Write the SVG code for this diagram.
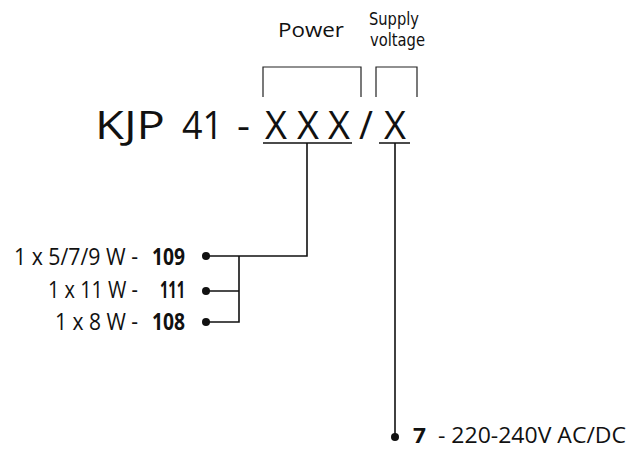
<svg xmlns="http://www.w3.org/2000/svg" width="631" height="451" viewBox="0 0 631 451">
<style>
.t{font-family:"Open Sans","Liberation Sans",sans-serif;fill:#111}
.b{font-family:"Open Sans","Liberation Sans",sans-serif;fill:#111;font-weight:bold}
.c{font-family:"DejaVu Sans Condensed","DejaVu Sans",sans-serif;fill:#111}
.ln{stroke:#111;stroke-width:1.6;fill:none}
.br{stroke:#222;stroke-width:1.2;fill:none}
.dot{fill:#111}
</style>
<rect width="631" height="451" fill="#fff"/>
<g id="header">
<text class="t" x="278" y="37" font-size="20" textLength="66" lengthAdjust="spacingAndGlyphs">Power</text>
<text class="c" x="369" y="25" font-size="17" textLength="50" lengthAdjust="spacingAndGlyphs">Supply</text>
<text class="c" x="370" y="46" font-size="17" textLength="55" lengthAdjust="spacingAndGlyphs">voltage</text>
<path class="br" d="M263,97 V67 H361 V97 M376,97 V67 H417 V97"/>
</g>
<g id="code">
<text class="t" x="95" y="139" font-size="38" textLength="70" lengthAdjust="spacingAndGlyphs">KJP</text>
<text class="t" x="182" y="139" font-size="38" textLength="41" lengthAdjust="spacingAndGlyphs">41</text>
<text class="t" x="237" y="139" font-size="38" textLength="13" lengthAdjust="spacingAndGlyphs">-</text>
<text class="t" y="139" font-size="38" text-anchor="middle"><tspan x="276">X</tspan><tspan x="308">X</tspan><tspan x="339">X</tspan><tspan x="366">/</tspan><tspan x="395">X</tspan></text>
<path class="ln" d="M263,143 H352 M379,143 H410"/>
</g>
<g id="power-options">
<text class="t" x="14" y="265" font-size="23" textLength="124" lengthAdjust="spacingAndGlyphs">1 x 5/7/9 W -</text>
<text class="b" x="152" y="265" font-size="23" textLength="33" lengthAdjust="spacingAndGlyphs">109</text>
<text class="t" x="48" y="298" font-size="23" textLength="90" lengthAdjust="spacingAndGlyphs">1 x 11 W -</text>
<text class="b" x="160" y="298" font-size="23" textLength="25" lengthAdjust="spacingAndGlyphs">111</text>
<text class="t" x="55" y="330" font-size="23" textLength="83" lengthAdjust="spacingAndGlyphs">1 x 8 W -</text>
<text class="b" x="152" y="330" font-size="23" textLength="33" lengthAdjust="spacingAndGlyphs">108</text>
<circle class="dot" cx="206" cy="256" r="4"/>
<circle class="dot" cx="206" cy="291" r="4"/>
<circle class="dot" cx="206" cy="322" r="4"/>
</g>
<g id="voltage-option">
<text class="b" x="413" y="443" font-size="21" textLength="13" lengthAdjust="spacingAndGlyphs">7</text>
<text class="t" x="438" y="443" font-size="21" textLength="188" lengthAdjust="spacingAndGlyphs">- 220-240V AC/DC</text>
<circle class="dot" cx="395" cy="437" r="4"/>
</g>
<g id="connectors">
<path class="ln" d="M307,143 V256 H206 M239,256 V322 H206 M239,291 H206"/>
<path class="ln" d="M395,143 V437"/>
</g>
</svg>
